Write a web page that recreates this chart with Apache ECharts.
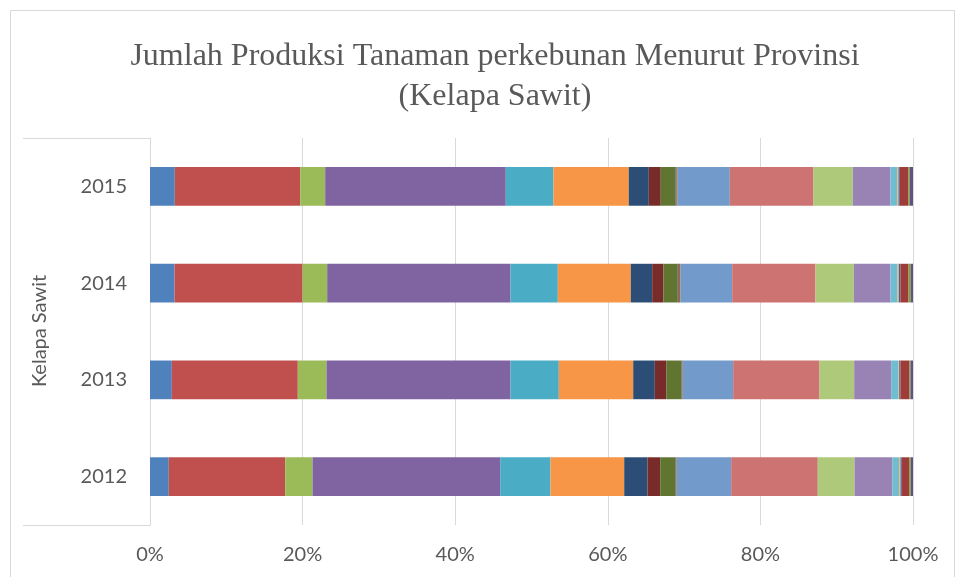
<!DOCTYPE html>
<html>
<head>
<meta charset="utf-8">
<script src="https://cdn.jsdelivr.net/npm/echarts@6/dist/echarts.min.js"></script>
<style>
  html,body{margin:0;padding:0;background:#fff;}
  .main{width:956px;height:577px;}
</style>
</head>
<body>
<div class="main"></div>
<script>
var years = ['2012', '2013', '2014', '2015'];
var xTicks = [0, 20, 40, 60, 80, 100];

// share of each province per year (2012..2015), in %
var aceh        = [2.46, 2.86, 3.21, 3.25];
var sumut       = [15.26, 16.51, 16.78, 16.44];
var sumbar      = [3.58, 3.76, 3.23, 3.27];
var riau        = [24.60, 24.12, 24.03, 23.67];
var jambi       = [6.59, 6.33, 6.20, 6.25];
var sumsel      = [9.66, 9.75, 9.56, 9.87];
var bengkulu    = [3.05, 2.83, 2.81, 2.62];
var lampung     = [1.67, 1.53, 1.48, 1.57];
var babel       = [2.00, 1.97, 1.84, 1.93];
var kepri       = [0.06, 0.05, 0.15, 0.06];
var jabar       = [0.05, 0.05, 0.05, 0.05];
var banten      = [0.06, 0.07, 0.19, 0.11];
var kalbar      = [7.13, 6.60, 6.77, 6.90];
var kalteng     = [11.35, 11.32, 10.92, 10.97];
var kalsel      = [4.81, 4.54, 5.02, 5.15];
var kaltim      = [4.98, 4.85, 4.81, 4.94];
var sulteng     = [0.88, 0.92, 0.92, 0.88];
var sulsel      = [0.17, 0.13, 0.17, 0.17];
var sultra      = [0.17, 0.17, 0.22, 0.17];
var sulbar      = [0.97, 1.14, 1.05, 1.10];
var papuaBarat  = [0.21, 0.17, 0.30, 0.21];
var papua       = [0.29, 0.33, 0.29, 0.42];

var provinces = ['Aceh','Sumatera Utara','Sumatera Barat','Riau','Jambi','Sumatera Selatan',
  'Bengkulu','Lampung','Kep. Bangka Belitung','Kep. Riau','Jawa Barat','Banten',
  'Kalimantan Barat','Kalimantan Tengah','Kalimantan Selatan','Kalimantan Timur',
  'Sulawesi Tengah','Sulawesi Selatan','Sulawesi Tenggara','Sulawesi Barat','Papua Barat','Papua'];
var values = [aceh, sumut, sumbar, riau, jambi, sumsel, bengkulu, lampung, babel, kepri, jabar, banten,
  kalbar, kalteng, kalsel, kaltim, sulteng, sulsel, sultra, sulbar, papuaBarat, papua];
var colors = ['#4F81BD','#C0504D','#9BBB59','#8064A2','#4BACC6','#F79646',
  '#2C4D75','#772C2A','#5F7530','#4D3B62','#276A7C','#B65708',
  '#729ACA','#CD7371','#AFC97A','#9983B5','#6FBDD1','#F9AB6B',
  '#3A679C','#9F3B38','#7E9C40','#664F82'];

// 100% stacked: divide by the yearly total
var totals = years.map(function(y, i){
  var s = 0;
  values.forEach(function(v){ s += v[i]; });
  return s;
});

var series = provinces.map(function(name, k){
  return {
    name: name,
    type: 'bar',
    stack: 'total',
    barWidth: '40%',
    itemStyle: {color: colors[k]},
    data: values[k].map(function(v, i){ return v / totals[i] * 100; })
  };
});

var myChart = echarts.init(document.querySelector('.main'));

var option = {
  animation: false,
  textStyle: {fontFamily: 'Lato'},
  title: {
    text: 'Jumlah Produksi Tanaman perkebunan Menurut Provinsi\n(Kelapa Sawit)',
    left: 490,
    textAlign: 'center',
    top: 32,
    textStyle: {
      fontFamily: 'Liberation Serif',
      fontWeight: 'normal',
      fontSize: 32,
      lineHeight: 40,
      color: '#595959'
    }
  },
  grid: {left: 150, right: 43, top: 138, bottom: 52},
  xAxis: {
    type: 'value',
    min: 0,
    max: 100,
    interval: 20,
    axisLine: {show: false},
    axisTick: {show: false},
    splitLine: {lineStyle: {color: '#D9D9D9', width: 1}},
    axisLabel: {
      formatter: function(v){ return xTicks.indexOf(v) >= 0 ? v + '%' : ''; },
      color: '#595959',
      fontSize: 20,
      margin: 20
    }
  },
  yAxis: {
    type: 'category',
    data: years,
    axisLine: {show: true, lineStyle: {color: '#D9D9D9'}},
    axisTick: {show: false},
    axisLabel: {color: '#595959', fontSize: 20, margin: 23}
  },
  graphic: [
    {type: 'rect', shape: {x: 10.5, y: 10.5, width: 944, height: 600},
      style: {fill: 'none', stroke: '#D9D9D9', lineWidth: 1}, silent: true},
    {type: 'line', shape: {x1: 23, y1: 138.5, x2: 150, y2: 138.5},
      style: {stroke: '#D9D9D9', lineWidth: 1}},
    {type: 'line', shape: {x1: 23, y1: 525.5, x2: 150, y2: 525.5},
      style: {stroke: '#D9D9D9', lineWidth: 1}},
    {type: 'text', x: 40, y: 331, rotation: Math.PI / 2,
      style: {text: 'Kelapa Sawit', fill: '#595959', fontSize: 20, fontFamily: 'Lato',
        align: 'center', verticalAlign: 'middle'}}
  ],
  series: series
};

myChart.setOption(option);
</script>
</body>
</html>
